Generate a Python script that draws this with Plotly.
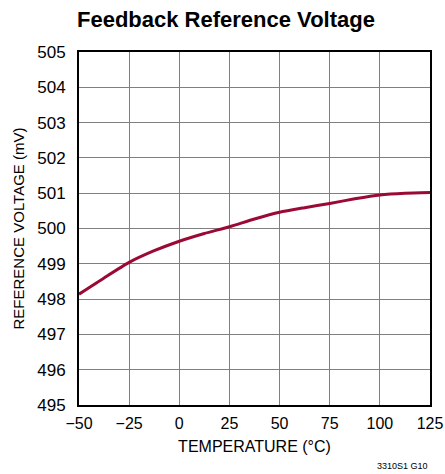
import plotly.graph_objects as go

temperature = [-50, -37.5, -25, -12.5, 0, 12.5, 25, 37.5, 50, 62.5, 75, 87.5, 100, 112.5, 125]
vref_mv = [498.14, 498.6, 499.04, 499.37, 499.64, 499.86, 500.05, 500.27, 500.46, 500.59, 500.71, 500.84, 500.95, 501.0, 501.02]

x_ticks = [-50, -25, 0, 25, 50, 75, 100, 125]
x_tick_labels = ["\u221250", "\u221225", "0", "25", "50", "75", "100", "125"]
y_ticks = list(range(495, 506))

FONT = "Liberation Sans Narrow, Arial Narrow, Liberation Sans, sans-serif"

fig = go.Figure()
fig.add_trace(go.Scatter(
    x=temperature, y=vref_mv, mode="lines",
    line=dict(color="#9b0a35", width=3, shape="spline", smoothing=0.6),
    showlegend=False, hoverinfo="skip",
))

fig.update_layout(
    width=445, height=474,
    margin=dict(l=79, r=15, t=52, b=69),
    paper_bgcolor="white", plot_bgcolor="white",
    font=dict(family=FONT, color="black", size=16),
    title=dict(text="<b>Feedback Reference Voltage</b>", x=77/445, xanchor="left",
               y=1 - 19/474, yanchor="middle",
               font=dict(family=FONT, size=22, color="black")),
)
fig.update_xaxes(
    range=[-50, 125], tickvals=x_ticks, ticktext=x_tick_labels, automargin=False,
    showgrid=True, gridcolor="#808080", gridwidth=1,
    showline=True, linecolor="black", linewidth=2, mirror=True,
    ticks="", zeroline=False, tickfont=dict(size=16), ticklabelstandoff=3,
    title=dict(text="TEMPERATURE (\u00b0C)", font=dict(size=16), standoff=10),
)
fig.update_yaxes(
    range=[495, 505], tickvals=y_ticks, automargin=False,
    showgrid=True, gridcolor="#808080", gridwidth=1,
    showline=True, linecolor="black", linewidth=2, mirror=True,
    ticks="", zeroline=False, tickfont=dict(size=17), ticklabelstandoff=8,
    title=dict(text="REFERENCE VOLTAGE (mV)", font=dict(size=15), standoff=9),
)
fig.add_annotation(text="3310S1 G10", xref="paper", yref="paper",
                   x=1.0, y=-(466 - 405) / (474 - 52 - 69),
                   xanchor="right", yanchor="middle", showarrow=False,
                   font=dict(family=FONT, size=9, color="black"))

fig.write_html("out.html", config={"displayModeBar": False, "responsive": False},
               post_script="document.body.style.margin='0';document.body.style.overflow='hidden';")
